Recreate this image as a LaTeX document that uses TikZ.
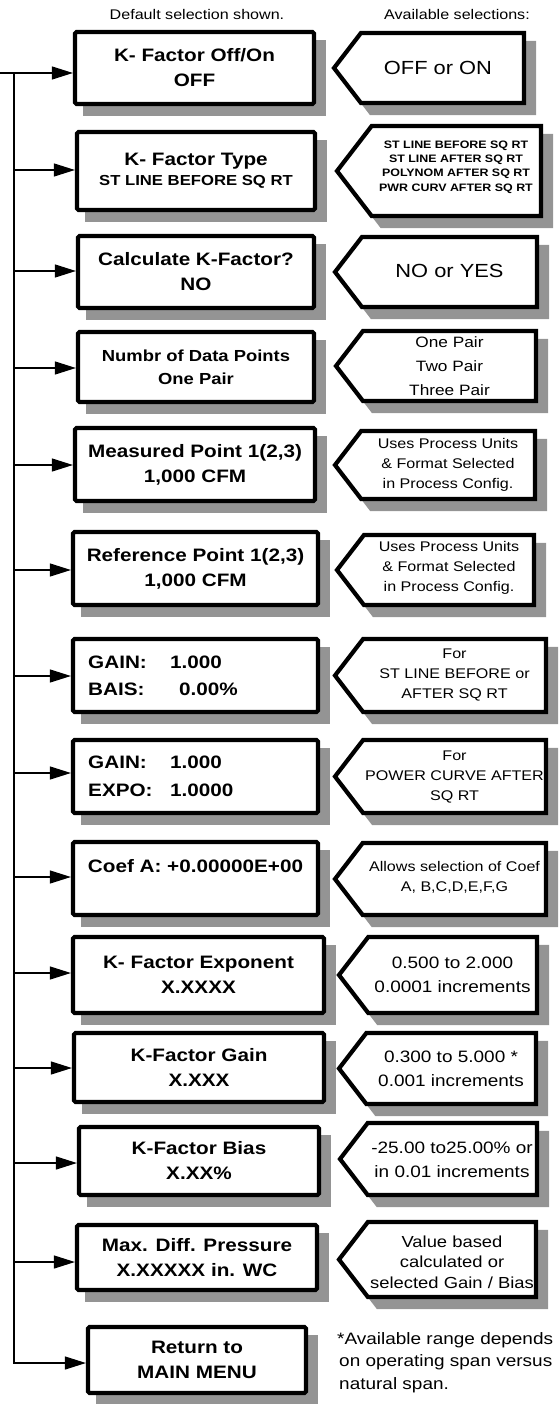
\documentclass[tikz,border=0pt]{standalone}
\usepackage{fontspec}
\setmainfont{Liberation Sans}[FakeStretch=1.15]
\usetikzlibrary{arrows.meta}
\tikzset{
  lbox/.style={draw, line width=4.2pt, fill=white, rounded corners=1.5pt, inner sep=0pt, align=center,
    font=\fontsize{18}{25}\selectfont\bfseries},
  selline/.style={draw=black, fill=white, line width=4.2pt, line join=miter},
  shadowfill/.style={fill=black, fill opacity=0.42},
  conn/.style={line width=1.2pt, -{Triangle[length=21pt,width=13pt]}},
  hdr/.style={font=\fontsize{14}{17}\selectfont, inner sep=0pt},
  txtl/.style={font=\fontsize{18}{27.5}\selectfont\bfseries, align=left, inner sep=0pt, anchor=west},
  rtbig/.style={font=\fontsize{19}{23}\selectfont, align=center, inner sep=0pt},
  rtsmallb/.style={font=\fontsize{10.8}{14.3}\selectfont\bfseries, align=center, inner sep=0pt},
  rtpair/.style={font=\fontsize{15}{24}\selectfont, align=center, inner sep=0pt},
  rtfour/.style={font=\fontsize{14}{20}\selectfont, align=center, inner sep=0pt},
  rtcoef/.style={font=\fontsize{14}{19.5}\selectfont, align=center, inner sep=0pt},
  rtinc/.style={font=\fontsize{16.5}{24}\selectfont, align=center, inner sep=0pt},
  rtval/.style={font=\fontsize{16}{20.5}\selectfont, align=center, inner sep=0pt},
  foot/.style={font=\fontsize{16.5}{22.5}\selectfont, align=left, inner sep=0pt, anchor=west},
}
\begin{document}
\begin{tikzpicture}[x=1pt,y=-1pt]
\useasboundingbox (0,0) rectangle (558,1404);

% shadows of the left boxes
\foreach \lx/\ty/\rx/\by in {75/32/314/104, 77/132/315/210, 78/236/314/308, 78/332/314/402,
   75/428/315/501, 73/532/318/605, 73/639/318/712, 73/740/318/813, 73/842/318/915,
   73/937/324/1013, 74/1033/324/1102, 79/1127/319/1195, 77/1225/317/1290, 88/1327/306/1393}{
  \path[shadowfill] (\lx+8,\ty+8) rectangle (\rx+12,\by+12);
}
% shadows of the selection pointers
\foreach \tx/\ty/\rx/\by in {334/33/524/103, 337/126/541/216, 335/237/537/307, 336/331/536/401,
   335/431/535/499, 337/535/534/605, 335/639/546/712, 335/740/546/813, 335/843/546/915,
   339/937/537/1013, 339/1033/536/1104, 340/1123/537/1195, 339/1222/536/1297}{
  \path[shadowfill] ({\tx+7.5},{(\ty+\by)/2+10}) -- ({\tx+0.385*(\by-\ty)+9},{\ty+7.9}) -- ({\rx+12.1},{\ty+7.9})
     -- ({\rx+12.1},{\by+12.1}) -- ({\tx+0.385*(\by-\ty)+9},{\by+12.1}) -- cycle;
}

\node[hdr] (h1) at (197,15) {Default selection shown.};
\node[hdr] (h2) at (457,15) {Available selections:};

\node[lbox, minimum width=239, minimum height=72] (b1) at (194.5,68) {K- Factor Off/On\\OFF};
\node[lbox, minimum width=238, minimum height=78] (b2) at (196,171) {K- Factor Type\\[-5pt]{\fontsize{14.5}{17}\selectfont ST LINE BEFORE SQ RT}};
\node[lbox, minimum width=236, minimum height=72] (b3) at (196,272) {Calculate K-Factor?\\NO};
\node[lbox, minimum width=236, minimum height=70, font=\fontsize{16}{23}\selectfont\bfseries] (b4) at (196,367) {Numbr of Data Points\\One Pair};
\node[lbox, minimum width=240, minimum height=73] (b5) at (195,464.5) {Measured Point 1(2,3)\\1,000 CFM};
\node[lbox, minimum width=245, minimum height=73] (b6) at (195.5,568.5) {Reference Point 1(2,3)\\1,000 CFM};
\node[lbox, minimum width=245, minimum height=73] (b7) at (195.5,675.5) {};
\node[lbox, minimum width=245, minimum height=73] (b8) at (195.5,776.5) {};
\node[lbox, minimum width=245, minimum height=73] (b9) at (195.5,878.5) {Coef A: +0.00000E+00\\\mbox{}};
\node[lbox, minimum width=251, minimum height=76] (b10) at (198.5,975) {K- Factor Exponent\\X.XXXX};
\node[lbox, minimum width=250, minimum height=69] (b11) at (199,1067.5) {K-Factor Gain\\X.XXX};
\node[lbox, minimum width=240, minimum height=68] (b12) at (199,1161) {K-Factor Bias\\X.XX\%};
\node[lbox, minimum width=240, minimum height=65] (b13) at (197,1257.5) {Max. Diff. Pressure\\X.XXXXX in. WC};
\node[lbox, minimum width=218, minimum height=66] (b14) at (197,1360) {Return to\\MAIN MENU};

\node[txtl] (g7) at (88,676) {\makebox[82pt][l]{GAIN:}1.000\\\makebox[91pt][l]{BAIS:}0.00\%};
\node[txtl] (g8) at (88,776.5) {\makebox[82pt][l]{GAIN:}1.000\\\makebox[82pt][l]{EXPO:}1.0000};

% selection pointers
\foreach \tx/\ty/\rx/\by in {334/33/524/103, 337/126/541/216, 335/237/537/307, 336/331/536/401,
   335/431/535/499, 337/535/534/605, 335/639/546/712, 335/740/546/813, 335/843/546/915,
   339/937/537/1013, 339/1033/536/1104, 340/1123/537/1195, 339/1222/536/1297}{
  \path[selline] (\tx,{(\ty+\by)/2}) -- ({\tx+0.385*(\by-\ty)},\ty) -- (\rx,\ty)
     -- (\rx,\by) -- ({\tx+0.385*(\by-\ty)},\by) -- cycle;
}

\node[rtbig] (s1) at (438,68) {OFF or ON};
\node[rtsmallb] (s2) at (456,167) {ST LINE BEFORE SQ RT\\ST LINE AFTER SQ RT\\POLYNOM AFTER SQ RT\\PWR CURV AFTER SQ RT};
\node[rtbig] (s3) at (449.5,271) {NO or YES};
\node[rtpair] (s4) at (449.5,366) {One Pair\\Two Pair\\Three Pair};
\node[rtfour] (s5) at (448,465) {Uses Process Units\\\& Format Selected\\in Process Config.};
\node[rtfour] (s6) at (449,568) {Uses Process Units\\\& Format Selected\\in Process Config.};
\node[rtfour] (s7) at (454.5,675) {For\\ST LINE BEFORE or\\AFTER SQ RT};
\node[rtfour] (s8) at (454.5,777) {For\\POWER CURVE AFTER\\SQ RT};
\node[rtcoef] (s9) at (454.5,877.5) {Allows selection of Coef\\A, B,C,D,E,F,G};
\node[rtinc] (s10) at (452.5,974.5) {0.500 to 2.000\\0.0001 increments};
\node[rtinc] (s11) at (451,1068.5) {0.300 to 5.000 *\\0.001 increments};
\node[rtinc] (s12) at (452,1160) {-25.00 to25.00\% or\\in 0.01 increments};
\node[rtval] (s13) at (452,1262) {Value based\\calculated or\\selected Gain / Bias};

\node[foot] (fn) at (337,1362.5) {*Available range depends\\\hspace*{2pt}on operating span versus\\\hspace*{2pt}natural span.};

\coordinate (c0) at (0,73);
\coordinate (j) at (14,73);
\draw[conn] (c0) -- (b1.west |- c0);
\foreach \n/\yy in {2/170,3/271,4/368,5/465,6/570,7/676,8/773,9/877,10/973,11/1068,12/1163,13/1262}{
  \coordinate (t\n) at (14,\yy);
  \draw[conn] (t\n) -- (b\n.west |- t\n);
}
\coordinate (t14) at (14,1363);
\draw[conn] (j) |- (b14.west |- t14);
\end{tikzpicture}
\end{document}
